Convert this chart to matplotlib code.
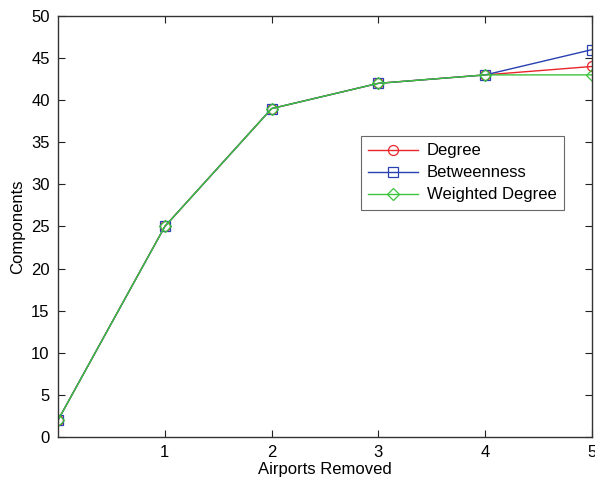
import matplotlib
matplotlib.use("Agg")
import matplotlib.pyplot as plt

plt.rcParams['font.family'] = ['Liberation Sans', 'DejaVu Sans']

x = [0, 1, 2, 3, 4, 5]
degree = [2, 25, 39, 42, 43, 44]
betweenness = [2, 25, 39, 42, 43, 46]
weighted = [2, 25, 39, 42, 43, 43]
xticks = [1, 2, 3, 4, 5]
yticks = [0, 5, 10, 15, 20, 25, 30, 35, 40, 45, 50]

fig = plt.figure(figsize=(5.95, 4.79), dpi=100)
ax = fig.add_axes([0.0975, 0.0877, 0.8975, 0.879])

ax.plot(x, degree, color='#e8262a', marker='o', mfc='none', ms=7.2, lw=1.0, mew=0.9, label='Degree')
ax.plot(x, betweenness, color='#2a40b0', marker='s', mfc='none', ms=7.2, lw=1.0, mew=0.9, label='Betweenness')
ax.plot(x, weighted, color='#3cc43c', marker='D', mfc='none', ms=6.5, lw=1.0, mew=0.9, label='Weighted Degree')

ax.set_xlim(0, 5)
ax.set_ylim(0, 50)
ax.set_xticks(xticks)
ax.set_yticks(yticks)
ax.tick_params(direction='in', length=5, width=0.8, labelsize=12, top=True, right=True, pad=6, colors='#222222')
ax.tick_params(axis='x', labeltop=False)
for s in ax.spines.values():
    s.set_linewidth(1.0)
    s.set_color('#333333')
for lab in ax.get_xticklabels() + ax.get_yticklabels():
    lab.set_color('black')

ax.set_xlabel('Airports Removed', fontsize=12, labelpad=1)
ax.set_ylabel('Components', fontsize=12, labelpad=4)

leg = ax.legend(loc='upper left', bbox_to_anchor=(0.567, 0.715), fontsize=12, frameon=True,
                fancybox=False, edgecolor='#444444', handlelength=3.0, borderpad=0.45,
                labelspacing=0.42, handletextpad=0.5, borderaxespad=0)
leg.get_frame().set_linewidth(0.8)

fig.savefig('out.png', dpi=100)
